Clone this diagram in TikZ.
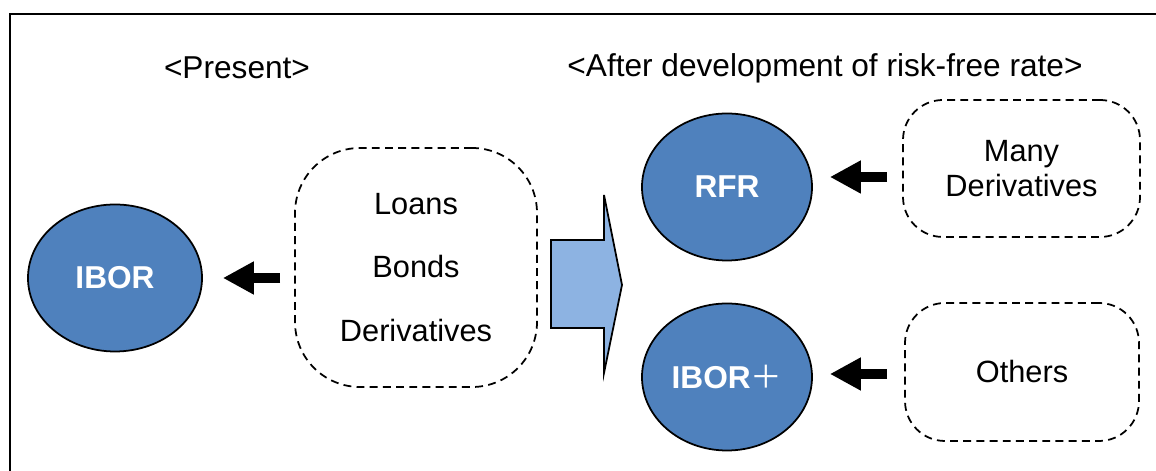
\documentclass[tikz,border=0pt]{standalone}
\usepackage{fontspec}
\setmainfont{Liberation Sans}
\newfontfamily\cjk{Noto Sans CJK JP}
\usepackage{xcolor}
\definecolor{rateblue}{RGB}{79,129,189}
\definecolor{shiftblue}{RGB}{141,179,226}
\usepackage{tikz}
\usetikzlibrary{arrows.meta, positioning, calc, shapes.geometric}

\tikzset{
  rate/.style={ellipse, draw=black, line width=1pt, fill=rateblue, text=white,
    font=\fontsize{18}{22}\selectfont\bfseries, minimum width=3.4cm, minimum height=2.94cm, inner sep=0pt},
  usage/.style={draw=black, line width=1pt, dash pattern=on 4.5pt off 3pt, rounded corners=0.8cm,
    align=center, font=\fontsize{17.5}{20}\selectfont, inner sep=0pt},
  feeds/.style={line width=0.2cm, -{Triangle[length=0.62cm, width=0.62cm]}},
  title/.style={font=\fontsize{18}{22}\selectfont}
}

\begin{document}
\begin{tikzpicture}
  \useasboundingbox (0,0) rectangle (23.12,9.42);

  % Frame (only top and left edges fall inside the page)
  \draw[line width=1.5pt] (0.2,0) -- (0.2,9.14) -- (23.12,9.14);

  % --- Left: Present ---
  \node[title] (present) at (4.74,8.06) {<Present>};
  \node[rate, minimum width=3.48cm] (ibor) at (2.30,3.86) {IBOR};
  \node[usage, minimum width=4.84cm, minimum height=4.78cm, rounded corners=1.3cm,
    font=\fontsize{17.5}{36.3}\selectfont] (products) at (8.32,4.07) {Loans\\Bonds\\Derivatives};
  \draw[feeds] ($(products.west |- ibor.east)+(-0.28,0)$) -- ($(ibor.east)+(0.4,0)$);

  % Transition arrow
  \draw[fill=shiftblue, line width=1pt] (11.02,4.62) -- (12.08,4.62) -- (12.08,5.52) -- (12.44,3.72)
    -- (12.08,1.96) -- (12.08,2.86) -- (11.02,2.86) -- cycle;

  % --- Right: After development of risk-free rate ---
  \node[title] (after) at (16.5,8.06) {<After development of risk-free rate>};
  \node[rate] (rfr) at (14.54,5.68) {RFR};
  \node[rate] (iborplus) at (14.54,1.88) {IBOR{\cjk\mdseries ＋}};

  \node[usage, minimum width=4.74cm, minimum height=2.74cm] (many) at (20.43,6.05) {Many\\Derivatives};
  \node[usage, minimum width=4.68cm, minimum height=2.76cm] (others) at (20.44,1.98) {Others};

  \coordinate (f2) at ($(many.west)+(-0.3,-0.17)$);
  \coordinate (f3) at ($(others.west)+(-0.34,-0.04)$);
  \draw[feeds] (f2) -- ($(f2 -| rfr.east)+(0.34,0)$);
  \draw[feeds] (f3) -- ($(f3 -| iborplus.east)+(0.34,0)$);
\end{tikzpicture}
\end{document}
